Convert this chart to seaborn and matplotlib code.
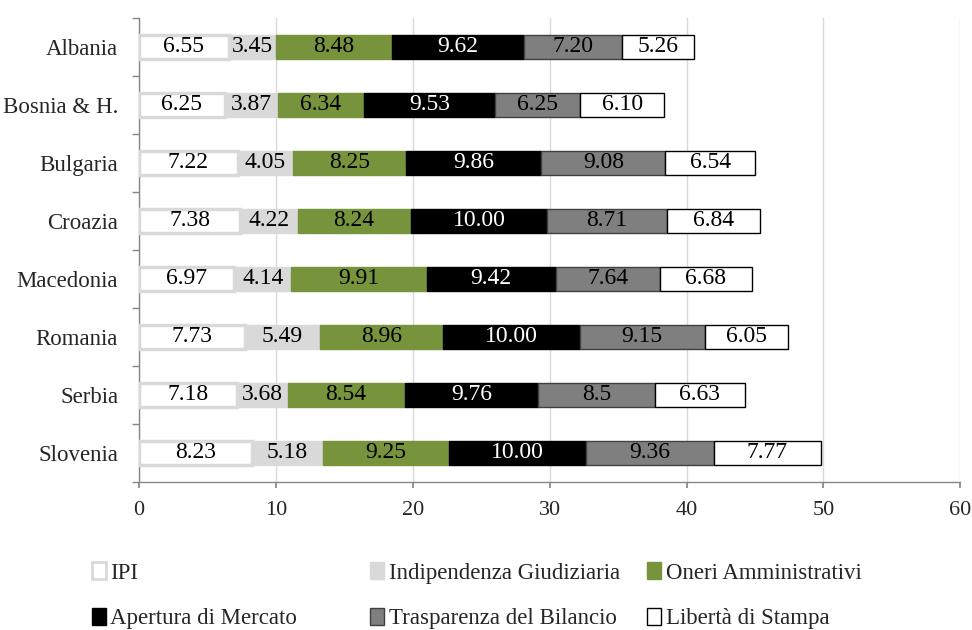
import numpy as np
import pandas as pd
import matplotlib
matplotlib.use("Agg")
import matplotlib.pyplot as plt
import seaborn as sns
from matplotlib.patches import Patch

countries = ["Albania", "Bosnia & H.", "Bulgaria", "Croazia", "Macedonia", "Romania", "Serbia", "Slovenia"]
series_names = ["IPI", "Indipendenza Giudiziaria", "Oneri Amministrativi",
                "Apertura di Mercato", "Trasparenza del Bilancio", "Libertà di Stampa"]
ipi = ["6.55", "6.25", "7.22", "7.38", "6.97", "7.73", "7.18", "8.23"]
indipendenza = ["3.45", "3.87", "4.05", "4.22", "4.14", "5.49", "3.68", "5.18"]
oneri = ["8.48", "6.34", "8.25", "8.24", "9.91", "8.96", "8.54", "9.25"]
apertura = ["9.62", "9.53", "9.86", "10.00", "9.42", "10.00", "9.76", "10.00"]
trasparenza = ["7.20", "6.25", "9.08", "8.71", "7.64", "9.15", "8.5", "9.36"]
liberta = ["5.26", "6.10", "6.54", "6.84", "6.68", "6.05", "6.63", "7.77"]
x_ticks = [0, 10, 20, 30, 40, 50, 60]

series = [ipi, indipendenza, oneri, apertura, trasparenza, liberta]
fills = ["#ffffff", "#d9d9d9", "#77933c", "#000000", "#7f7f7f", "#ffffff"]
edges = ["#d9d9d9", "#d9d9d9", "#77933c", "#000000", "#404040", "#000000"]
lws = [2.5, 1.0, 1.0, 1.0, 1.0, 1.0]
txtc = ["black", "black", "black", "white", "black", "black"]

sns.set_theme(style="white")
plt.rcParams['font.family'] = ['Liberation Serif', 'DejaVu Serif']

fig = plt.figure(figsize=(9.72, 6.3), dpi=100)
ax = fig.add_axes([0.143, 0.235, 0.845, 0.7365])

left = np.zeros(len(countries))
for name, vals, fc, ec, lw, tc in zip(series_names, series, fills, edges, lws, txtc):
    v = np.array([float(s) for s in vals])
    df = pd.DataFrame({"country": countries, "value": v})
    sns.barplot(data=df, x="value", y="country", orient="h", order=countries,
                errorbar=None, color=fc, saturation=1, width=0.41,
                left=left, edgecolor=ec, linewidth=lw, ax=ax, zorder=3)
    cont = ax.containers[-1]
    ax.bar_label(cont, labels=vals, label_type="center", color=tc, fontsize=17, zorder=4)
    left = left + v

ax.set_xlim(0, 60)
ax.set_ylim(7.5, -0.5)
ax.set_xticks(x_ticks)
ax.set_xlabel("")
ax.set_ylabel("")
ax.grid(axis="x", color="#d9d9d9", linewidth=1, zorder=0)
ax.grid(axis="y", visible=False)
for s in ["top", "right"]:
    ax.spines[s].set_visible(False)
for s in ["left", "bottom"]:
    ax.spines[s].set_color("#868686")
    ax.spines[s].set_linewidth(1)
ax.tick_params(axis="x", which="major", direction="out", length=4.5, color="#868686",
               labelsize=16, pad=9, bottom=True)
ax.tick_params(axis="y", which="major", length=0, labelsize=16.5, pad=15)
ax.set_yticks(np.arange(-0.5, 8, 1), minor=True)
ax.tick_params(axis="y", which="minor", direction="out", length=5, color="#868686", left=True)

handles = [Patch(facecolor=fc, edgecolor=ec, linewidth=(2 if i == 0 else lw))
           for i, (fc, ec, lw) in enumerate(zip(fills, edges, lws))]
cols = [(0, 3), (1, 4), (2, 5)]
col_x = [0.0947, 0.381, 0.666]
for (a, b), xx in zip(cols, col_x):
    leg = fig.legend([handles[a], handles[b]], [series_names[a], series_names[b]],
                     loc="upper left", bbox_to_anchor=(xx, 0.108), ncol=1, frameon=False,
                     fontsize=16.5, handlelength=0.6, handleheight=0.8, handletextpad=0.2,
                     labelspacing=1.05, borderpad=0, borderaxespad=0)

fig.savefig("out.png", dpi=100)
